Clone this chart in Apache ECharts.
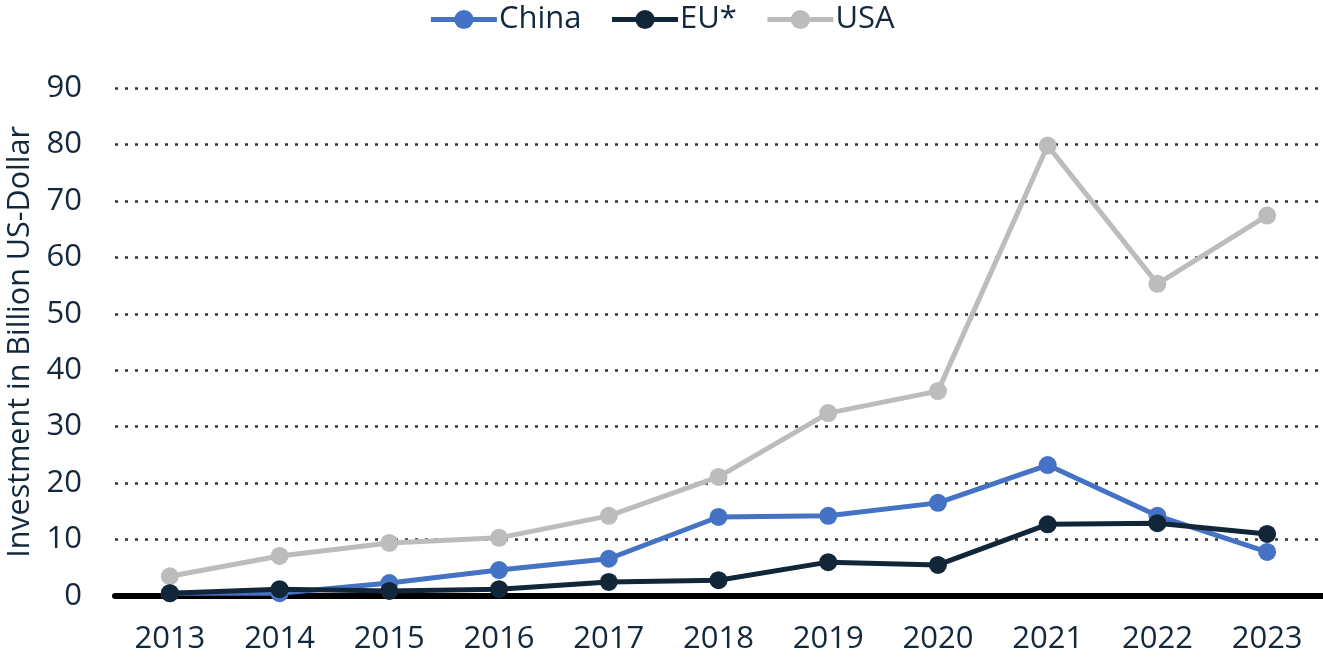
<!DOCTYPE html>
<html>
<head>
<meta charset="utf-8">
<script src="https://cdn.jsdelivr.net/npm/echarts@6/dist/echarts.min.js"></script>
<style>html,body{margin:0;padding:0;background:#fff}#c{width:1323px;height:669px}</style>
</head>
<body>
<div id="c"></div>
<script>
const years = ['2013','2014','2015','2016','2017','2018','2019','2020','2021','2022','2023'];
const china = [0.5, 0.5, 2.3, 4.6, 6.6, 14.0, 14.2, 16.5, 23.2, 14.2, 7.8];
const eu = [0.5, 1.2, 0.9, 1.2, 2.5, 2.8, 6.0, 5.5, 12.7, 12.9, 11.0];
const usa = [3.5, 7.1, 9.4, 10.3, 14.2, 21.1, 32.4, 36.3, 79.8, 55.3, 67.4];
const yTicks = [0, 90, 10];

const textColor = '#13283d';
const font = 'Open Sans';
const chart = echarts.init(document.getElementById('c'));
function ser(name, data, color, z) {
  return {
    name, type: 'line', data, z,
    symbol: 'circle', symbolSize: 18,
    lineStyle: { color, width: 5 },
    itemStyle: { color },
    emphasis: { disabled: true },
    animation: false
  };
}
chart.setOption({
  animation: false,
  textStyle: { fontFamily: font },
  legend: {
    top: -1, left: 'center',
    itemWidth: 66, itemHeight: 24, itemGap: 28,
    itemStyle: { borderWidth: 0 },
    lineStyle: { width: 5 },
    textStyle: { fontSize: 31, color: textColor, fontFamily: font, padding: [0, 0, 0, -3] },
    data: ['China', 'EU*', 'USA']
  },
  grid: { left: 115, right: 1, top: 88, bottom: 73, containLabel: false, outerBoundsMode: 'none' },
  xAxis: {
    type: 'category', data: years, boundaryGap: true,
    axisLine: { lineStyle: { color: '#000', width: 6 } },
    axisTick: { show: false },
    axisLabel: { fontSize: 31, color: textColor, margin: 28, fontFamily: font }
  },
  yAxis: {
    type: 'value', min: yTicks[0], max: yTicks[1], interval: yTicks[2],
    name: 'Investment in Billion US-Dollar',
    nameLocation: 'middle', nameGap: 79, nameRotate: 90,
    nameTextStyle: { fontSize: 30.5, color: textColor, fontFamily: font },
    axisLine: { show: false }, axisTick: { show: false },
    axisLabel: { fontSize: 31, color: textColor, margin: 33, fontFamily: font },
    splitLine: { lineStyle: { color: '#333', width: 2.5, type: [3, 7] } }
  },
  series: [
    ser('China', china, '#4472c4', 3),
    ser('EU*', eu, '#12263a', 4),
    ser('USA', usa, '#bcbcbc', 2)
  ]
});
</script>
</body>
</html>
